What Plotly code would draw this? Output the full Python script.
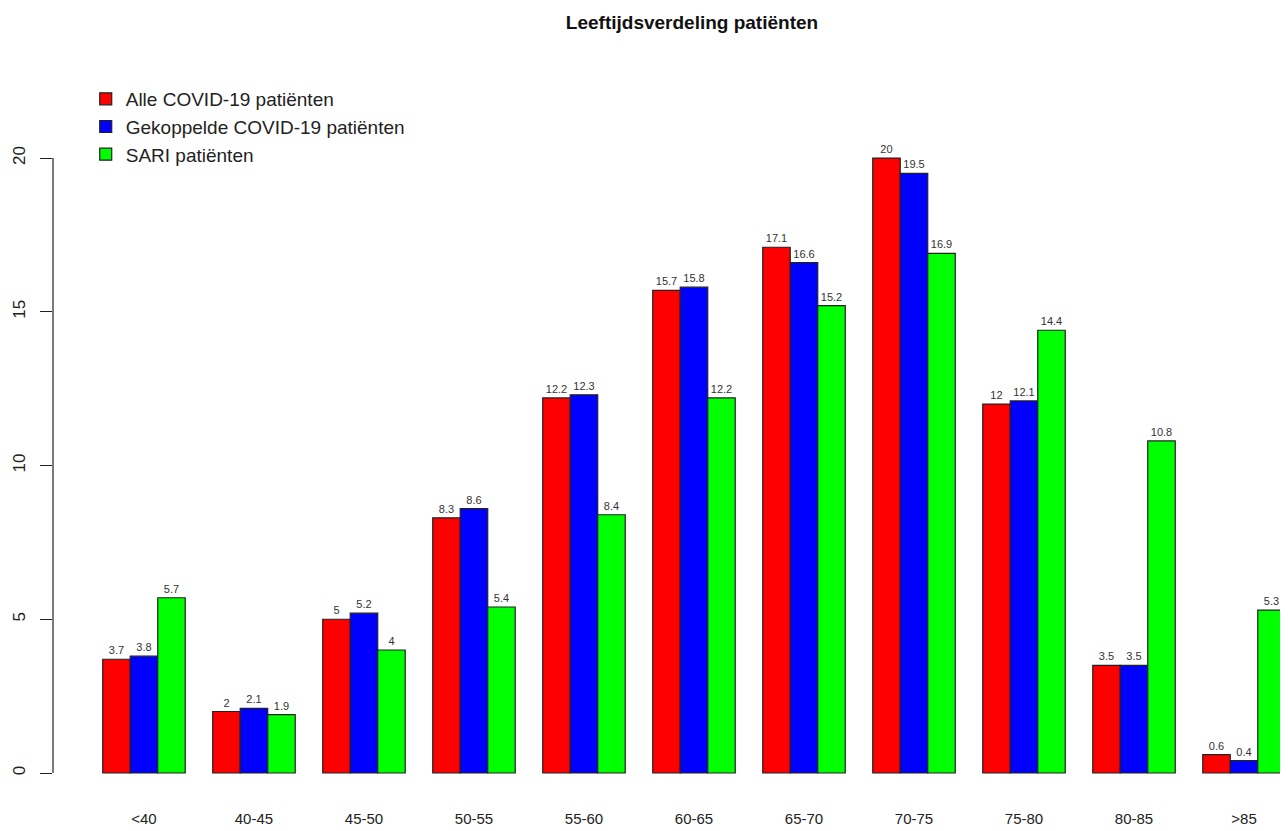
import plotly.graph_objects as go

leeftijden = ["<40", "40-45", "45-50", "50-55", "55-60", "60-65",
              "65-70", "70-75", "75-80", "80-85", ">85"]
alle_covid = [3.7, 2, 5, 8.3, 12.2, 15.7, 17.1, 20, 12, 3.5, 0.6]
gekoppeld_covid = [3.8, 2.1, 5.2, 8.6, 12.3, 15.8, 16.6, 19.5, 12.1, 3.5, 0.4]
sari = [5.7, 1.9, 4, 5.4, 8.4, 12.2, 15.2, 16.9, 14.4, 10.8, 5.3]
y_ticks = [0, 5, 10, 15, 20]

reeksen = [
    ("Alle COVID-19 patiënten", alle_covid, "#FF0000"),
    ("Gekoppelde COVID-19 patiënten", gekoppeld_covid, "#0000FF"),
    ("SARI patiënten", sari, "#00FF00"),
]

fig = go.Figure()
for naam, waarden, kleur in reeksen:
    fig.add_trace(go.Bar(
        x=leeftijden, y=waarden, name=naam,
        marker=dict(color=kleur, line=dict(color="#222222", width=1.2)),
        texttemplate="%{y}", textposition="outside", cliponaxis=False,
        constraintext="none",
        textfont=dict(family="Liberation Sans", size=11, color="#333333"),
    ))

# R-stijl as: lijn alleen van 0 tot 20
fig.add_shape(type="line", xref="paper", yref="y", x0=0, x1=0,
              y0=min(y_ticks), y1=max(y_ticks),
              line=dict(color="#222222", width=1.2))

# pagina heeft 8px body-marge, dus figuur 8px kleiner
fig.update_layout(
    width=1280, height=823,
    paper_bgcolor="white", plot_bgcolor="white",
    margin=dict(l=45, r=0, t=32, b=23, autoexpand=False),
    barmode="group", bargap=0.25, bargroupgap=0,
    font=dict(family="Liberation Sans", color="#222222"),
    title=dict(text="<b>Leeftijdsverdeling patiënten</b>", x=684 / 1280, xanchor="center",
               y=1 - 14 / 823, yanchor="middle", font=dict(size=19, color="#111111")),
    legend=dict(x=0.0265, y=0.948, xanchor="left", yanchor="top",
                font=dict(size=19, color="#222222"),
                bgcolor="rgba(0,0,0,0)", traceorder="normal"),
    showlegend=True,
)
fig.update_xaxes(range=[-0.827, 10.4], showgrid=False, showline=False, zeroline=False,
                 ticks="", tickfont=dict(size=15, color="#222222"))
fig.update_yaxes(range=[-1.138, 23.84], showgrid=False, showline=False, zeroline=False,
                 tickvals=y_ticks, ticks="outside", ticklen=12, tickwidth=1.2,
                 tickcolor="#222222", tickangle=-90, ticklabelstandoff=8,
                 tickfont=dict(size=17, color="#222222"))

fig.write_html("out.html")
